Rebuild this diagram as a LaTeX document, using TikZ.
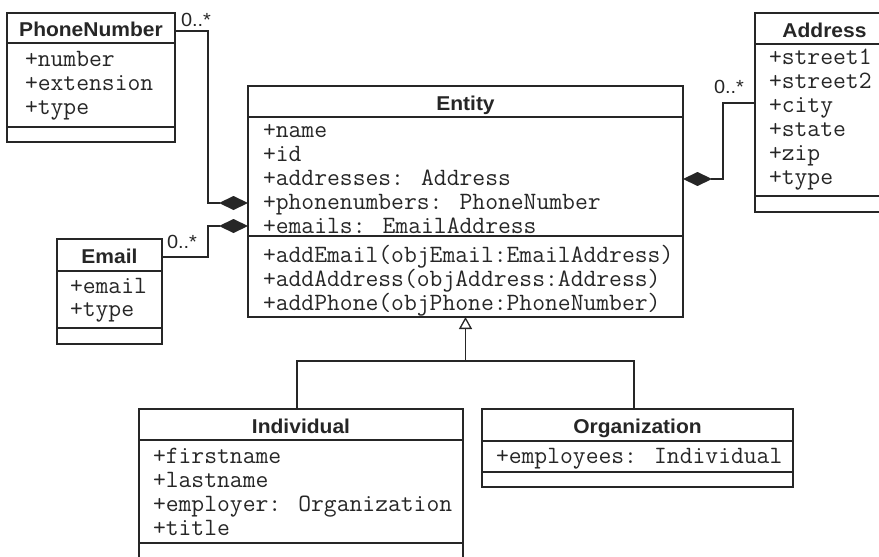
\documentclass[tikz,border=0pt]{standalone}
\usepackage{fontspec}
\setmainfont{Liberation Sans}
\newfontfamily\classfont[FakeStretch=1.05]{Liberation Sans}
\usetikzlibrary{arrows.meta,calc}
\definecolor{ink}{HTML}{262626}
\begin{document}
\begin{tikzpicture}[x=1pt,y=-1pt,
  every node/.style={inner sep=0pt, outer sep=0pt, text=ink},
  box/.style={draw=ink, line width=1.3pt, fill=white, rectangle, anchor=north west},
  classname/.style={font=\classfont\bfseries\fontsize{20}{20}\selectfont, anchor=base},
  member/.style={font=\ttfamily\fontsize{24.9}{24.9}\selectfont, anchor=base west},
  mult/.style={font=\classfont\fontsize{19}{19}\selectfont, anchor=base west},
  link/.style={draw=ink, line width=1.3pt},
  comp/.style={link, -{Diamond[length=29pt, width=14pt, fill=ink]}},
  gen/.style={link, -{Triangle[open, length=12pt, width=13pt, fill=white]}},
]
\useasboundingbox (0,0) rectangle (879,557);
\clip (0,0) rectangle (879,557);

% class boxes
\node[box, minimum width=168pt, minimum height=129pt] (pn) at (7,13) {};
\node[box, minimum width=139pt, minimum height=199pt] (addr) at (755,13) {};
\node[box, minimum width=435pt, minimum height=231pt] (ent) at (248,86) {};
\node[box, minimum width=105pt, minimum height=105pt] (em) at (57,239) {};
\node[box, minimum width=324pt, minimum height=150pt] (ind) at (139,409) {};
\node[box, minimum width=311pt, minimum height=78pt] (org) at (482,409) {};

% compartment separators
\foreach \n/\d in {pn/30, pn/114, addr/31, addr/183, ent/31, ent/150,
                   em/32, em/89, ind/31, ind/134, org/32, org/63}
  \draw[link] ($(\n.north west)+(0,\d)$) -- ($(\n.north east)+(0,\d)$);

% class names
\node[classname] (pn-t) at (91,36) {PhoneNumber};
\node[classname] (addr-t) at (824.5,37) {Address};
\node[classname] (ent-t) at (465.5,110) {Entity};
\node[classname] (em-t) at (109.5,263) {Email};
\node[classname] (ind-t) at (301,433) {Individual};
\node[classname] (org-t) at (637.5,433) {Organization};

% members
\foreach \t [count=\i from 0] in {+number,+extension,+type}
  \node[member] (pn-a\i) at (25,66+24*\i) {\t};
\foreach \t [count=\i from 0] in {+street1,+street2,+city,+state,+zip,+type}
  \node[member] (addr-a\i) at (769,64+24*\i) {\t};
\foreach \t [count=\i from 0] in {+name,+id,+addresses: Address,+phonenumbers: PhoneNumber,+emails: EmailAddress}
  \node[member] (ent-a\i) at (263,137+24*\i) {\t};
\foreach \t [count=\i from 0] in {+addEmail(objEmail:EmailAddress),+addAddress(objAddress:Address),+addPhone(objPhone:PhoneNumber)}
  \node[member] (ent-m\i) at (263,262+24*\i) {\t};
\foreach \t [count=\i from 0] in {+email,+type}
  \node[member] (em-a\i) at (70,293+23.5*\i) {\t};
\foreach \t [count=\i from 0] in {+firstname,+lastname,+employer: Organization,+title}
  \node[member] (ind-a\i) at (153,463+24*\i) {\t};
\node[member] (org-a0) at (496,463) {+employees: Individual};

% compositions
\coordinate (pn-bend) at (208,31);
\coordinate (em-bend) at (208,257);
\coordinate (addr-bend) at (723,103);
\draw[comp] ([yshift=-18pt]pn.north east) -- (pn-bend) |- ([yshift=-117pt]ent.north west);
\draw[comp] ([yshift=-18pt]em.north east) -- (em-bend) |- ([yshift=-140pt]ent.north west);
\draw[comp] ([yshift=-90pt]addr.north west) -- (addr-bend) |- ([yshift=-93pt]ent.north east);

% multiplicities
\node[mult] (pn-m) at (181,26) {0..*};
\node[mult] (em-m) at (167,248) {0..*};
\node[mult] (addr-m) at (714,93) {0..*};

% generalization
\coordinate (gen-j) at (465.5,361);
\draw[link] ([xshift=-4pt]ind.north) |- (gen-j) -| ([xshift=-3.5pt]org.north);
\draw[gen] (gen-j) -- (ent.south);
\end{tikzpicture}
\end{document}
